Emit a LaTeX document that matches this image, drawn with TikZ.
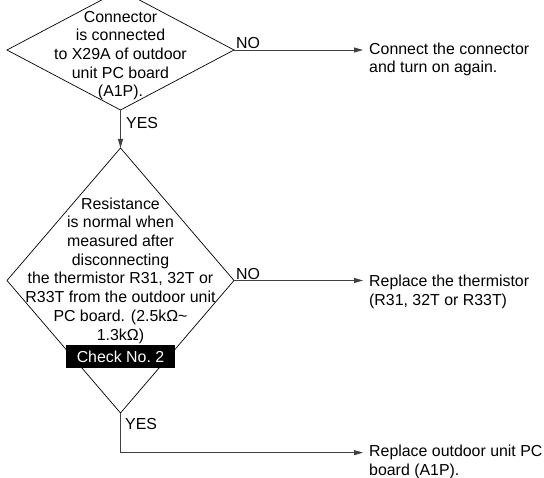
\documentclass[tikz,border=0pt]{standalone}
\usepackage{fontspec}
\setmainfont{Liberation Sans}
\usetikzlibrary{shapes.geometric,arrows.meta,positioning}

\begin{document}
\begin{tikzpicture}[x=1pt,y=-1pt,
	decision/.style={diamond, draw, line width=0.7pt, inner sep=0pt, outer sep=0pt, minimum width=227pt},
	txt/.style={font=\fontsize{15.9}{18.7}\selectfont, inner sep=0pt},
	flow/.style={draw=black!75, line width=0.9pt, -{Triangle[length=9pt,width=5pt]}},
	lbl/.style={font=\fontsize{15.9}{18.7}\selectfont, inner sep=0pt}]
	\useasboundingbox (0,0) rectangle (544,478);
	% first check, connector X29A
	\node[decision, minimum height=120pt] (con) at (120.5,50) {};
	\node[txt, align=center] (contxt) at (120.5,55.5) {Connector\\is connected\\to X29A of outdoor\\unit PC board\\(A1P).};
	\node[txt, align=left, anchor=west] (recon) at (369,59.5) {Connect the connector\\and turn on again.};
	\draw[flow] (con.east) -- ([xshift=-6pt]con.east -| recon.west);
	\node[lbl, anchor=south west] (nocon) at ([xshift=2pt,yshift=1pt]con.east) {NO};
	\node[lbl, anchor=north west] (yescon) at ([xshift=5.5pt,yshift=-7pt]con.south) {YES};
	% second check, thermistor resistance
	\node[decision, minimum height=265pt] (res) at (120.5,280.5) {};
	\draw[flow] (con.south) -- (res.north);
	\node[txt, align=center] (restxt) at (120.5,270.5) {Resistance\\is normal when\\measured after\\disconnecting\\the thermistor R31, 32T or\\R33T from the outdoor unit\\PC board. (2.5kΩ\textasciitilde\\1.3kΩ)};
	\node[txt, fill=black, text=white, minimum width=109pt, minimum height=23pt] (chk) at (120.5,356.5) {Check No.~2};
	\node[txt, align=left, anchor=west] (repth) at (369,291.7) {Replace the thermistor\\(R31, 32T or R33T)};
	\draw[flow] (res.east) -- ([xshift=-6pt]res.east -| repth.west);
	\node[lbl, anchor=south west] (nores) at ([xshift=2pt,yshift=1pt]res.east) {NO};
	\node[lbl, anchor=north west] (yesres) at ([xshift=4.5pt,yshift=-5pt]res.south) {YES};
	% last step
	\node[txt, align=left, anchor=west] (reppc) at (369,462) {Replace outdoor unit PC\\board (A1P).};
	\draw[flow] (res.south) |- ([shift={(-6pt,9.35pt)}]reppc.west);
\end{tikzpicture}
\end{document}
